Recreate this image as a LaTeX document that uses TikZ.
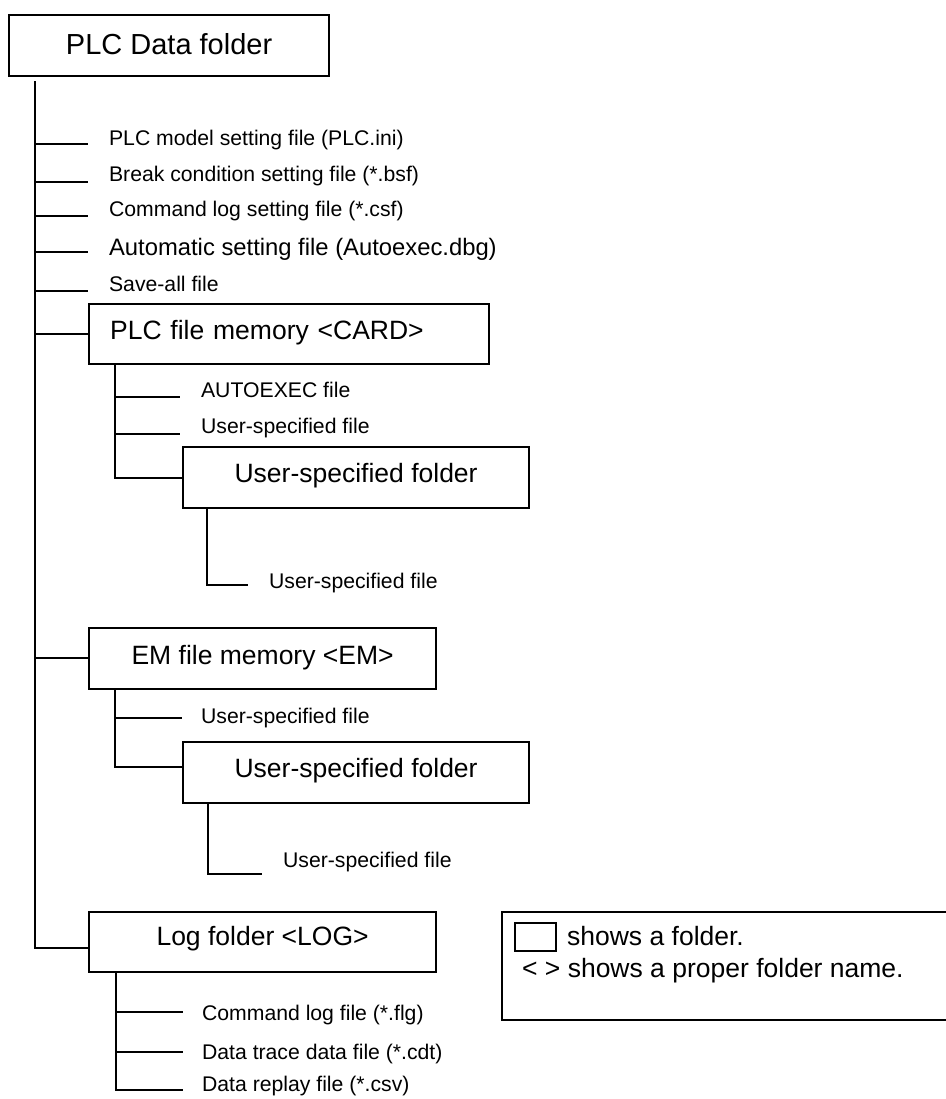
\documentclass[tikz,border=0pt]{standalone}
\usepackage{fontspec}
\setmainfont{Liberation Sans}
\begin{document}
\begin{tikzpicture}[x=1pt,y=-1pt,
  line width=2.2pt,
  folder/.style={draw, line width=2.2pt, inner sep=0pt, anchor=north west,
    font=\fontsize{26.5}{30}\selectfont},
  filetxt/.style={anchor=base west, inner sep=0pt, font=\fontsize{21.2}{25}\selectfont},
  legtxt/.style={anchor=base west, inner sep=0pt, font=\fontsize{26.5}{30}\selectfont},
  conn/.style={line width=2.2pt}
]
\useasboundingbox (0,0) rectangle (945,1099);

% root folder
\node[folder, minimum width=320pt, minimum height=61pt, text height=22pt, text depth=4pt,
  font=\fontsize{29}{33}\selectfont] (root) at (8,14) {PLC Data folder};
\coordinate (trunk) at ([xshift=27pt,yshift=-4pt]root.south west);

% top-level files
\node[filetxt] (f1) at (108,146) {PLC model setting file (PLC.ini)};
\node[filetxt] (f2) at (108,182) {Break condition setting file (*.bsf)};
\node[filetxt] (f3) at (108,217) {Command log setting file (*.csf)};
\node[filetxt, font=\fontsize{23.8}{28}\selectfont] (f4) at (108,255.5) {Automatic setting file (Autoexec.dbg)};
\node[filetxt] (f5) at (108,291) {Save-all file};
\foreach \i/\y in {1/144,2/182,3/216,4/252,5/291}{
  \coordinate (s\i) at (88,\y);
  \draw[conn] (trunk |- s\i) -- (s\i);
}

% PLC file memory
\node[folder, minimum width=400pt, minimum height=60pt, text width=358pt, inner xsep=21pt,
  align=left, text height=20pt, text depth=9pt] (card) at (88,303) {PLC file memory <CARD>};
\coordinate (cardtrunk) at ([xshift=27pt]card.south west);
\node[filetxt] (a1) at (200,397.5) {AUTOEXEC file};
\node[filetxt] (a2) at (200,433.5) {User-specified file};
\coordinate (c1) at (180,397);
\coordinate (c2) at (180,434);
\draw[conn] (cardtrunk |- c1) -- (c1);
\draw[conn] (cardtrunk |- c2) -- (c2);

\node[folder, minimum width=346pt, minimum height=61pt, text height=20pt, text depth=11pt]
  (usf1) at (182,446) {User-specified folder};
\draw[conn] (cardtrunk) |- ([yshift=-0.5pt]usf1.west);
\coordinate (u1) at ([xshift=25pt]usf1.south west);
\coordinate (d1) at (248,585);
\draw[conn] (u1) |- (d1);
\node[filetxt] (g1) at (268,588) {User-specified file};

% EM file memory
\node[folder, minimum width=347pt, minimum height=61pt, text height=20pt, text depth=8.4pt]
  (em) at (88,627) {EM file memory <EM>};
\coordinate (emtrunk) at ([xshift=27pt]em.south west);
\coordinate (c3) at (182,718);
\draw[conn] (emtrunk |- c3) -- (c3);
\node[filetxt] (b1) at (200,723) {User-specified file};
\node[folder, minimum width=346pt, minimum height=61pt, text height=20pt, text depth=9.6pt]
  (usf2) at (182,741) {User-specified folder};
\draw[conn] (emtrunk) |- ([yshift=5.5pt]usf2.west);
\coordinate (u2) at ([xshift=26pt]usf2.south west);
\coordinate (d2) at (262,874);
\draw[conn] (u2) |- (d2);
\node[filetxt] (g2) at (282,867.7) {User-specified file};

% Log folder
\node[folder, minimum width=347pt, minimum height=60pt, text height=20pt, text depth=14pt]
  (log) at (88,911) {Log folder <LOG>};
\coordinate (logtrunk) at ([xshift=28pt]log.south west);
\node[filetxt] (h1) at (201,1020) {Command log file (*.flg)};
\node[filetxt] (h2) at (201,1059) {Data trace data file (*.cdt)};
\node[filetxt] (h3) at (201,1091.5) {Data replay file (*.csv)};
\coordinate (c4) at (183,1012);
\coordinate (c5) at (183,1052);
\coordinate (c6) at (183,1090);
\draw[conn] (logtrunk |- c4) -- (c4);
\draw[conn] (logtrunk |- c5) -- (c5);
\draw[conn] (logtrunk) |- (c6);

% main trunk and folder connectors
\draw[conn] (trunk) |- ([yshift=-6pt]log.west);
\draw[conn] (trunk |- card.west) -- (card.west);
\draw[conn] ([yshift=0.5pt]trunk |- em.west) -- ([yshift=0.5pt]em.west);

% legend
\node[draw, line width=2.2pt, inner sep=0pt, anchor=north west, minimum width=452pt,
  minimum height=108pt] (legend) at (501,911) {};
\node[draw, line width=2.2pt, inner sep=0pt, anchor=north west, minimum width=41pt,
  minimum height=28pt] (lsq) at (514,922) {};
\node[legtxt] (l1) at (566,945) {shows a folder.};
\node[legtxt] (l2) at (521,977) {< > shows a proper folder name.};
\end{tikzpicture}
\end{document}
